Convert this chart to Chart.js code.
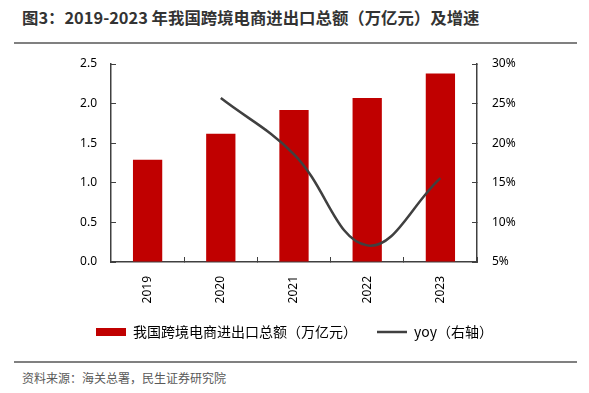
<!DOCTYPE html>
<html>
<head>
<meta charset="utf-8">
<script src="https://cdn.jsdelivr.net/npm/chart.js@4"></script>
<style>
  body { margin: 0; width: 589px; height: 393px; background: #fff; position: relative; overflow: hidden;
         font-family: "Noto Sans CJK SC", "Noto Sans", sans-serif; }
  #title { position: absolute; left: 22px; top: 5px; font-size: 16.4px; font-weight: bold; color: #333; white-space: nowrap; }
  #topLine { position: absolute; left: 14px; width: 563px; top: 42px; height: 2px; background: #808080; }
  #botLine { position: absolute; left: 14px; width: 563px; top: 361px; height: 2px; background: #808080; }
  #source { position: absolute; left: 22px; top: 369px; font-size: 12px; color: #595959; white-space: nowrap; }
  #wrap { position: absolute; left: 0; top: 0; width: 589px; height: 350px; }
</style>
</head>
<body>
<div id="title">图3：2019-2023 年我国跨境电商进出口总额（万亿元）及增速</div>
<div id="topLine"></div>
<div id="wrap"><canvas id="chart"></canvas></div>
<div id="botLine"></div>
<div id="source">资料来源：海关总署，民生证券研究院</div>
<script>
// data
const years = ['2019', '2020', '2021', '2022', '2023'];
const totalValue = [1.29, 1.62, 1.92, 2.07, 2.38];   // 万亿元
const yoy = [null, 25.7, 18.6, 7.1, 15.6];            // %

const axisColor = '#404040';
const tickFont = { family: 'Noto Sans', size: 12 };

new Chart(document.getElementById('chart'), {
    data: {
        labels: years,
        datasets: [{
            type: 'bar',
            label: '我国跨境电商进出口总额（万亿元）',
            data: totalValue,
            backgroundColor: '#c00000',
            pointStyle: 'rect',
            categoryPercentage: 1,
            barPercentage: 0.4,
            yAxisID: 'y',
            order: 2
        }, {
            type: 'line',
            label: 'yoy（右轴）',
            data: yoy,
            borderColor: '#404040',
            backgroundColor: '#404040',
            borderWidth: 2.5,
            pointRadius: 0,
            pointStyle: 'line',
            tension: 0.4,
            yAxisID: 'y1',
            order: 1
        }]
    },
    options: {
        responsive: true,
        maintainAspectRatio: false,
        animation: false,
        layout: { padding: { top: 64, bottom: 1, left: 0, right: 0 } },
        plugins: {
            tooltip: { enabled: false },
            legend: {
                position: 'bottom',
                labels: {
                    usePointStyle: true,
                    pointStyleWidth: 30,
                    boxHeight: 8,
                    padding: 20,
                    color: '#000',
                    font: { family: 'Noto Sans CJK SC', size: 14 },
                    sort: (a, b) => a.datasetIndex - b.datasetIndex
                }
            }
        },
        scales: {
            x: {
                grid: { drawOnChartArea: false, tickLength: -5, color: axisColor, offset: true },
                border: { color: axisColor, width: 1.5 },
                ticks: { maxRotation: 90, minRotation: 90, padding: 19, color: '#000', font: tickFont },
                afterFit: s => { s.height = 43; }
            },
            y: {
                position: 'left',
                min: 0, max: 2.5,
                grid: { drawOnChartArea: false, tickLength: -5, color: axisColor },
                border: { color: axisColor, width: 1.5 },
                ticks: { stepSize: 0.5, padding: 19, color: '#000', font: tickFont,
                         callback: v => v.toFixed(1) },
                afterFit: s => { s.width = 111; }
            },
            y1: {
                position: 'right',
                min: 5, max: 30,
                grid: { drawOnChartArea: false, tickLength: -5, color: axisColor },
                border: { color: axisColor, width: 1.5 },
                ticks: { stepSize: 5, padding: 20, color: '#000', font: tickFont,
                         callback: v => v + '%' },
                afterFit: s => { s.width = 112; }
            }
        }
    }
});
</script>
</body>
</html>
